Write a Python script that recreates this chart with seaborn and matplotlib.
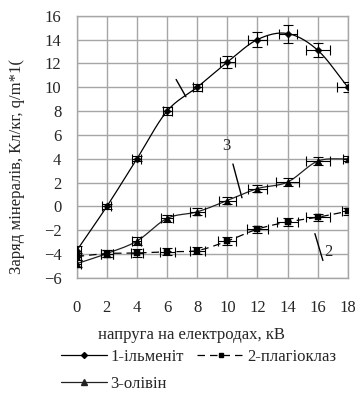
"""
Заряд мінералів залежно від напруги на електродах (три мінерали).
"""

import numpy as np
import pandas as pd
import matplotlib
matplotlib.use("Agg")
import matplotlib.pyplot as plt
from matplotlib.lines import Line2D
import seaborn as sns


# --- дані ---
voltage = [0, 2, 4, 6, 8, 10, 12, 14, 16, 18]

ilmenite = [-3.7, 0.0, 4.0, 8.0, 10.0, 12.1, 14.0, 14.5, 13.1, 10.0]
ilmenite_xerr = [0.3, 0.3, 0.3, 0.3, 0.3, 0.5, 0.6, 0.6, 0.8, 0.7]
ilmenite_yerr = [0.4, 0.2, 0.2, 0.3, 0.3, 0.5, 0.6, 0.75, 0.6, 0.4]

plagioclase = [-4.2, -3.95, -3.9, -3.8, -3.7, -2.9, -1.9, -1.3, -0.9, -0.4]
plagioclase_xerr = [0.3, 0.4, 0.4, 0.5, 0.5, 0.6, 0.7, 0.7, 0.8, 0.4]
plagioclase_yerr = [0.3, 0.3, 0.3, 0.3, 0.3, 0.3, 0.3, 0.3, 0.3, 0.3]

olivine = [-4.8, -3.95, -2.9, -1.0, -0.45, 0.5, 1.5, 2.05, 3.8, 4.0]
olivine_xerr = [0.3, 0.4, 0.3, 0.4, 0.5, 0.55, 0.6, 0.75, 0.8, 0.3]
olivine_yerr = [0.3, 0.3, 0.3, 0.3, 0.3, 0.3, 0.3, 0.3, 0.35, 0.2]

labels = ["1-ільменіт", "2-плагіоклаз", "3-олівін"]
x_label = "напруга на електродах, кВ"
y_label = "Заряд мінералів, Кл/кг, q/m*1("


def smooth(x, y, n=24):
    """Згладжена лінія (Catmull-Rom), як 'smoothed line' в Excel."""
    x = np.asarray(x, float)
    y = np.asarray(y, float)
    px = np.concatenate([[2 * x[0] - x[1]], x, [2 * x[-1] - x[-2]]])
    py = np.concatenate([[2 * y[0] - y[1]], y, [2 * y[-1] - y[-2]]])
    xs, ys = [], []
    t = np.linspace(0, 1, n, endpoint=False)
    for i in range(1, len(px) - 2):
        for arr, out in ((px, xs), (py, ys)):
            p0, p1, p2, p3 = arr[i - 1], arr[i], arr[i + 1], arr[i + 2]
            out.extend(0.5 * ((2 * p1) + (-p0 + p2) * t
                              + (2 * p0 - 5 * p1 + 4 * p2 - p3) * t ** 2
                              + (-p0 + 3 * p1 - 3 * p2 + p3) * t ** 3))
    xs.append(x[-1])
    ys.append(y[-1])
    return np.array(xs), np.array(ys)


sns.set_style("white")
plt.rcParams["font.family"] = ["Liberation Serif", "DejaVu Serif"]
plt.rcParams["font.size"] = 12

fig = plt.figure(figsize=(3.55, 3.93), dpi=100)
ax = fig.add_axes([0.216, 0.2926, 0.764, 0.6675])

series = [
    (ilmenite, ilmenite_xerr, ilmenite_yerr, "-", "D", 3, "black"),
    (plagioclase, plagioclase_xerr, plagioclase_yerr, (0, (6, 4)), "s", 3.5, "black"),
    (olivine, olivine_xerr, olivine_yerr, "-", "^", 4, "#222222"),
]

for vals, xe, ye, ls, mk, ms, col in series:
    sx, sy = smooth(voltage, vals)
    ax.plot(sx, sy, color=col, lw=0.9, linestyle=ls, zorder=3)
    ax.errorbar(voltage, vals, xerr=xe, yerr=ye, fmt="none", ecolor="black",
                elinewidth=0.8, capsize=3.5, capthick=0.8, zorder=4)
    df = pd.DataFrame({"x": voltage, "y": vals})
    sns.scatterplot(data=df, x="x", y="y", marker=mk, s=ms ** 2 * 1.5,
                    color="black", edgecolor="black", ax=ax, zorder=5)

# виносні лінії з номерами кривих
ax.plot([6.6, 7.25], [10.65, 9.2], color="black", lw=1)
ax.plot([10.37, 10.97], [3.56, 0.73], color="black", lw=1)
ax.text(9.95, 5.1, "3", ha="center", va="center", fontsize=12)
ax.plot([15.81, 16.34], [-2.28, -4.53], color="black", lw=1)
ax.text(16.7, -3.8, "2", ha="center", va="center", fontsize=12)

ax.set_xlim(0, 18)
ax.set_ylim(-6, 16)
ax.set_xticks(voltage)
ax.set_yticks(np.arange(-6, 17, 2))
ax.grid(True, color="#a6a6a6", lw=1)
for s in ax.spines.values():
    s.set_color("#a6a6a6")
    s.set_linewidth(1)
ax.tick_params(axis="x", length=0, pad=16)
ax.tick_params(axis="y", length=0, pad=11)
ax.set_xlabel("")
ax.set_ylabel("")

fig.text(191 / 355, 1 - 335 / 393, x_label, ha="center", va="center", fontsize=12)
fig.text(17 / 355, 1 - 166 / 393, y_label, ha="center", va="center",
         rotation=90, fontsize=12)

h1 = Line2D([], [], color="black", lw=0.9, marker="D", ms=3)
h2 = Line2D([], [], color="black", lw=0.9, linestyle=(0, (6, 4)), marker="s", ms=3.5)
h3 = Line2D([], [], color="#222222", lw=0.9, marker="^", ms=4)
# порядок для ncol=2: перша колонка 1, 3; друга колонка 2
fig.legend([h1, h3, h2], [labels[0], labels[2], labels[1]], loc="upper left",
           bbox_to_anchor=(54 / 355, 1 - 342 / 393),
           ncol=2, frameon=False, fontsize=12, handlelength=2.8, handletextpad=0.2,
           columnspacing=0.8, labelspacing=0.65, borderaxespad=0)

fig.savefig("out.png", dpi=100)
